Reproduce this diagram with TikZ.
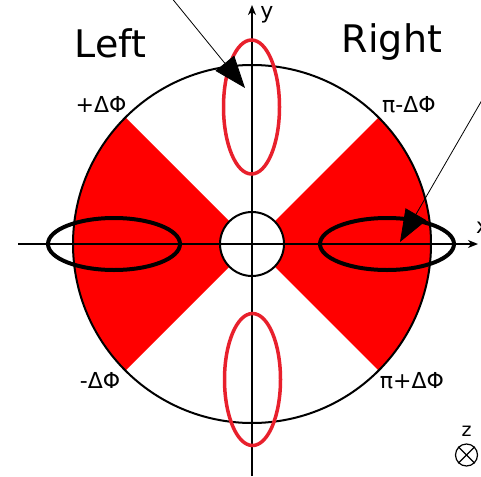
\documentclass[tikz,border=0pt]{standalone}
\usepackage{fontspec}
\setmainfont{DejaVu Sans}
\usetikzlibrary{arrows.meta}
\definecolor{sectorred}{RGB}{255, 0, 0}
\definecolor{ringred}{RGB}{232, 32, 44}

\begin{document}
\begin{tikzpicture}[x=1pt, y=-1pt]
\useasboundingbox (0,0) rectangle (481,476);
\coordinate (o) at (252,244);
% red sectors
\fill[sectorred] (o) -- ++(-45:179) arc[start angle=-45, end angle=45, radius=179] -- cycle;
\fill[sectorred] (o) -- ++(135:179) arc[start angle=135, end angle=225, radius=179] -- cycle;
\draw[line width=2pt] (o) circle[radius=179];
\filldraw[fill=white, line width=2pt] (o) circle[radius=32];
% axes
\draw[line width=1.6pt, -{Stealth[open, length=10pt, width=8pt, inset=3pt]}] (18,244) -- (478,244);
\draw[line width=1.6pt, -{Stealth[open, length=10pt, width=8pt, inset=3pt]}] (252,476) -- (252,5);
\node[anchor=base west, inner sep=0pt, font=\fontsize{21}{21}\selectfont] (xlab) at (476,233) {x};
\node[anchor=base, font=\fontsize{22}{22}\selectfont] (ylab) at (267,19) {y};
% ellipses
\draw[line width=4pt] (114,244) ellipse[x radius=66, y radius=26];
\draw[line width=4pt] (387,244) ellipse[x radius=67, y radius=26];
\draw[ringred, line width=3.5pt] (251.5,107) ellipse[x radius=28, y radius=67];
\draw[ringred, line width=3.5pt] (252.5,379.5) ellipse[x radius=28, y radius=66];
% pointers
\coordinate (ltail) at (166,-9);
\coordinate (ltip) at (245,88);
\coordinate (rtail) at (489,88);
\coordinate (rtip) at (400,242);
\draw[line width=0.8pt, -{Triangle[length=32pt, width=24pt]}] (ltail) -- (ltip);
\draw[line width=0.8pt, -{Triangle[length=32pt, width=24pt]}] (rtail) -- (rtip);
% labels
\node[anchor=base, font=\fontsize{38}{38}\selectfont] (left) at (110.5,58) {Left};
\node[anchor=base, font=\fontsize{38}{38}\selectfont] (right) at (392,53) {Right};
\node[anchor=base, font=\fontsize{22}{22}\selectfont] (pd) at (101,113) {+ΔΦ};
\node[anchor=base, font=\fontsize{22}{22}\selectfont] (pimd) at (409,113) {π-ΔΦ};
\node[anchor=base, font=\fontsize{22}{22}\selectfont] (md) at (100,388) {-ΔΦ};
\node[anchor=base, font=\fontsize{22}{22}\selectfont] (pipd) at (412,388) {π+ΔΦ};
% z direction
\node[anchor=base, font=\fontsize{19}{19}\selectfont] (zlab) at (466.5,436) {z};
\node[circle, draw, line width=1.2pt, inner sep=0pt, minimum size=22pt] (zdir) at (466.5,455) {};
\draw[line width=1.2pt] (zdir.north west) -- (zdir.south east);
\draw[line width=1.2pt] (zdir.north east) -- (zdir.south west);
\end{tikzpicture}
\end{document}
